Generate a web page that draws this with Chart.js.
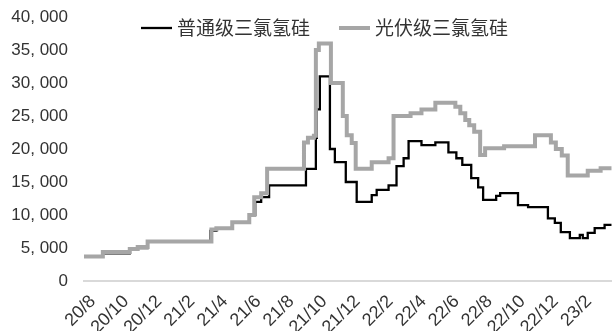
<!DOCTYPE html>
<html>
<head>
<meta charset="utf-8">
<script src="https://cdn.jsdelivr.net/npm/chart.js@4/dist/chart.umd.min.js"></script>
<style>
  html, body { margin: 0; padding: 0; background: #ffffff; }
  canvas { display: block; }
</style>
</head>
<body>
<canvas id="chart" width="614" height="331"></canvas>
<script>
// Month offsets counted from Aug 2020 (0 = 20/8); tick labels every two months.
const tickMonths = [0, 2, 4, 6, 8, 10, 12, 14, 16, 18, 20, 22, 24, 26, 28, 30];
const tickLabels = ['20/8', '20/10', '20/12', '21/2', '21/4', '21/6', '21/8', '21/10',
                    '21/12', '22/2', '22/4', '22/6', '22/8', '22/10', '22/12', '23/2'];

const seriesNames = ['普通级三氯氢硅', '光伏级三氯氢硅'];

// 普通级三氯氢硅: month at which each price level starts, and the price (yuan/t)
const regularMonths = [-0.54, 0.60, 2.23, 2.71, 3.31, 7.11, 7.47, 8.43, 9.46, 9.82, 10.18, 10.66,
  12.89, 13.49, 13.55, 13.73, 14.34, 14.64, 15.30, 15.96, 16.87, 17.17, 17.89, 18.37, 18.80,
  19.10, 19.88, 20.72, 21.51, 21.99, 22.35, 22.89, 23.31, 23.61, 24.40, 24.64, 25.72, 26.33,
  27.53, 27.95, 28.31, 28.86, 29.46, 29.64, 29.94, 30.36, 30.96, 31.39];
const regularPrices = [3700, 4200, 4800, 5000, 6000, 7600, 7900, 8800, 10000, 12000, 12700, 14500,
  17000, 21700, 26000, 31000, 20000, 18000, 15000, 12000, 13000, 13800, 14500, 17400, 18600,
  21200, 20600, 21000, 19500, 18600, 17600, 15600, 14200, 12300, 12900, 13300, 11500, 11200,
  9500, 8800, 7400, 6500, 7000, 6500, 7300, 8000, 8500, 8500];

// 光伏级三氯氢硅
const solarMonths = [-0.54, 0.60, 2.23, 2.71, 3.31, 7.17, 7.47, 8.43, 9.46, 9.76, 10.18, 10.54,
  12.77, 13.01, 13.37, 13.49, 13.67, 14.40, 15.12, 15.36, 15.66, 15.90, 16.87, 17.89, 18.19,
  19.22, 19.88, 20.72, 21.93, 22.23, 22.53, 22.77, 23.07, 23.43, 23.73, 24.88, 26.75, 27.71,
  28.01, 28.37, 28.73, 29.94, 30.72, 31.39];
const solarPrices = [3700, 4400, 4850, 5150, 6000, 7800, 8000, 8900, 10000, 12700, 13300, 17000,
  21000, 21700, 22000, 35000, 36000, 30000, 25000, 22100, 20900, 17000, 18000, 18600, 25000,
  25400, 26000, 27000, 26400, 25400, 24400, 23600, 22600, 19100, 20100, 20400, 22100, 21000,
  20000, 19000, 16000, 16700, 17100, 17100];

const fontFamily = "'Liberation Sans', Arial, sans-serif";
const textColor = '#333333';
const blackLine = '#000000';
const greyLine = '#a6a6a6';

const toPoints = (xs, ys) => xs.map((x, i) => ({ x: x, y: ys[i] }));

// Legend drawn at the top of the plot, inside the chart area
const topLegend = {
  id: 'topLegend',
  afterDraw(chart) {
    const ctx = chart.ctx;
    const area = chart.chartArea;
    const y = area.top + 11;
    const items = [
      { x: area.left + 57, ds: chart.data.datasets[0] },
      { x: area.left + 255, ds: chart.data.datasets[1] }
    ];
    ctx.save();
    ctx.font = "19px 'Noto Sans CJK SC', sans-serif";
    ctx.textBaseline = 'middle';
    ctx.textAlign = 'left';
    items.forEach(it => {
      ctx.strokeStyle = it.ds.borderColor;
      ctx.lineWidth = it.ds.borderWidth;
      ctx.beginPath();
      ctx.moveTo(it.x, y);
      ctx.lineTo(it.x + 31, y);
      ctx.stroke();
      ctx.fillStyle = textColor;
      ctx.fillText(it.ds.label, it.x + 36, y);
    });
    ctx.restore();
  }
};

new Chart(document.getElementById('chart'), {
  type: 'line',
  data: {
    datasets: [
      {
        label: seriesNames[0],
        data: toPoints(regularMonths, regularPrices),
        borderColor: blackLine,
        borderWidth: 2.3,
        stepped: 'before',
        pointRadius: 0,
        fill: false,
        order: 2
      },
      {
        label: seriesNames[1],
        data: toPoints(solarMonths, solarPrices),
        borderColor: greyLine,
        borderWidth: 4,
        stepped: 'before',
        pointRadius: 0,
        fill: false,
        order: 1
      }
    ]
  },
  options: {
    responsive: false,
    animation: false,
    devicePixelRatio: 1,
    layout: { padding: { top: 17, right: 0, bottom: 0, left: 0 } },
    plugins: {
      legend: { display: false },
      tooltip: { enabled: false }
    },
    scales: {
      x: {
        type: 'linear',
        min: -0.54,
        max: 31.39,
        afterBuildTicks(scale) {
          scale.ticks = tickMonths.map(v => ({ value: v }));
        },
        afterFit(scale) { scale.height = 50; },
        ticks: {
          autoSkip: false,
          minRotation: 45,
          maxRotation: 45,
          padding: 10,
          color: textColor,
          font: { family: fontFamily, size: 18 },
          callback(value) {
            const i = tickMonths.indexOf(value);
            return i >= 0 ? tickLabels[i] : '';
          }
        },
        grid: { display: false, drawTicks: false },
        border: { display: true, color: '#d9d9d9', width: 2 }
      },
      y: {
        min: 0,
        max: 40000,
        afterFit(scale) { scale.width = 84; },
        ticks: {
          stepSize: 5000,
          padding: 0,
          color: textColor,
          font: { family: fontFamily, size: 17 },
          callback(value) {
            return value.toLocaleString('en-US').replace(',', ', ');
          }
        },
        // invisible tick marks keep a gap between the labels and the plot
        grid: {
          display: true,
          drawOnChartArea: false,
          drawTicks: true,
          tickLength: 16,
          color: 'rgba(0,0,0,0)'
        },
        border: { display: false }
      }
    }
  },
  plugins: [topLegend]
});
</script>
</body>
</html>
